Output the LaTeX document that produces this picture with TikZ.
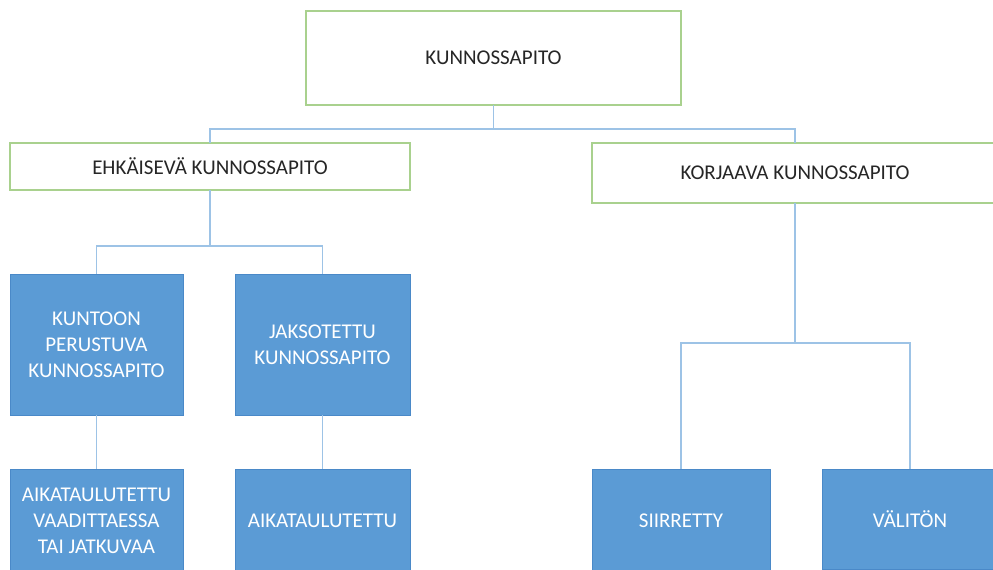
\documentclass[tikz,border=0pt]{standalone}
\usepackage{fontspec}
\setmainfont{Carlito}
\definecolor{boxgreen}{HTML}{A9D18E}
\definecolor{boxblue}{HTML}{5B9BD5}
\definecolor{boxblueline}{HTML}{4A89C8}
\definecolor{linkblue}{HTML}{9DC3E6}
\definecolor{textgray}{HTML}{262626}
\begin{document}
\begin{tikzpicture}[x=1pt, y=-1pt,
head/.style={draw=boxgreen, line width=1.2pt, fill=white, text=textgray,
  inner sep=0pt, outer sep=0pt, font=\fontsize{21}{25}\selectfont},
leaf/.style={draw=boxblueline, line width=1pt, fill=boxblue, text=white,
  align=center, inner sep=0pt, outer sep=0pt, font=\fontsize{21}{26}\selectfont},
link/.style={draw=linkblue, line width=1.2pt}]
\useasboundingbox (0,0) rectangle (993,570);
\clip (0,0) rectangle (993,570);
% top level
\node[head, minimum width=375pt, minimum height=94pt] (root) at (493.5,58) {KUNNOSSAPITO};
\node[head, minimum width=400pt, minimum height=47pt] (ehk) at (210,166.5) {EHKÄISEVÄ KUNNOSSAPITO};
\node[head, minimum width=406pt, minimum height=60pt] (kor) at (795,173) {KORJAAVA KUNNOSSAPITO};
% blue boxes
\node[leaf, minimum width=173pt, minimum height=141pt] (kun) at (96.5,344.5) {KUNTOON\\PERUSTUVA\\KUNNOSSAPITO};
\node[leaf, minimum width=175pt, minimum height=141pt] (jak) at (322.5,344.5) {JAKSOTETTU\\KUNNOSSAPITO};
\node[leaf, minimum width=173pt, minimum height=104pt] (aik1) at (96.5,521) {AIKATAULUTETTU\\VAADITTAESSA\\TAI JATKUVAA};
\node[leaf, minimum width=175pt, minimum height=104pt] (aik2) at (322.5,521) {AIKATAULUTETTU};
\node[leaf, minimum width=178pt, minimum height=104pt] (sii) at (681,521) {SIIRRETTY};
\node[leaf, minimum width=176pt, minimum height=100pt] (val) at (910,519) {VÄLITÖN};
% connectors
\draw[link] (root.south) -- ++(0,24) -| (ehk.north);
\draw[link] (root.south) -- ++(0,24) -| (kor.north);
\draw[link] (ehk.south) -- ++(0,56) -| (kun.north);
\draw[link] (ehk.south) -- ++(0,56) -| (jak.north);
\draw[link] (kun.south) -- (aik1.north);
\draw[link] (jak.south) -- (aik2.north);
\draw[link] (kor.south) -- ++(0,140) -| (sii.north);
\draw[link] (kor.south) -- ++(0,140) -| (val.north);
\end{tikzpicture}
\end{document}
